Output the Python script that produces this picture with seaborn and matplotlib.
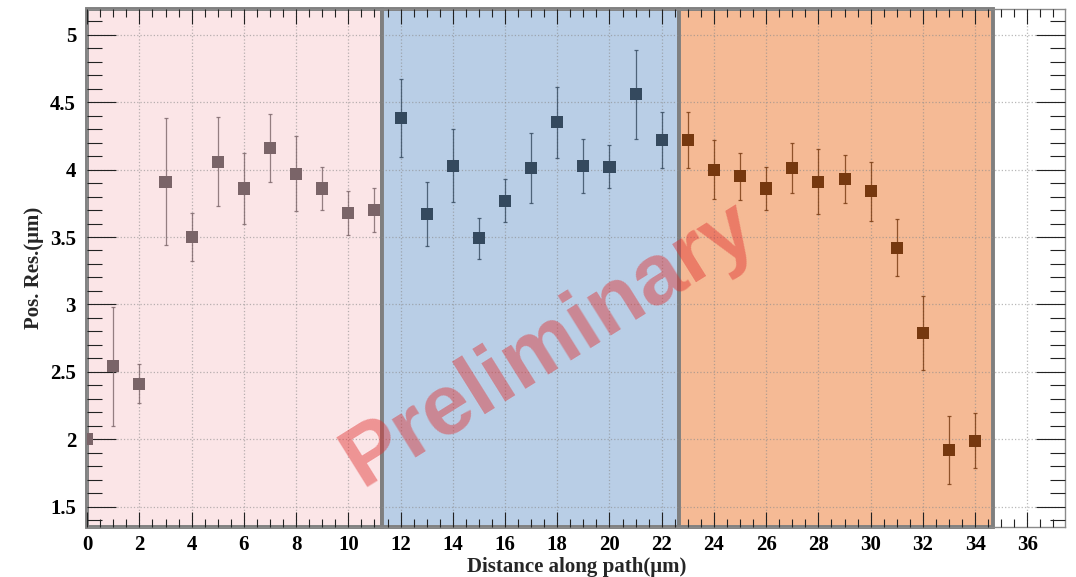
import numpy as np
import pandas as pd
import matplotlib
matplotlib.use("Agg")
import matplotlib.pyplot as plt
import seaborn as sns
from matplotlib.ticker import MultipleLocator, FormatStrFormatter

# ---- data ----
distance = list(range(35))
pos_res = [2.00, 2.54, 2.41, 3.91, 3.50, 4.06, 3.86, 4.16, 3.97, 3.86, 3.68, 3.70,
           4.38, 3.67, 4.03, 3.49, 3.77, 4.01, 4.35, 4.03, 4.02, 4.56, 4.22,
           4.22, 4.00, 3.95, 3.86, 4.01, 3.91, 3.93, 3.84, 3.42, 2.79, 1.92, 1.99]
pos_err = [0.00, 0.44, 0.145, 0.47, 0.18, 0.33, 0.26, 0.25, 0.28, 0.16, 0.165, 0.165,
           0.29, 0.235, 0.27, 0.15, 0.16, 0.26, 0.265, 0.20, 0.16, 0.33, 0.205,
           0.205, 0.22, 0.175, 0.16, 0.185, 0.24, 0.175, 0.22, 0.21, 0.275, 0.255, 0.205]
region = ["A"] * 12 + ["B"] * 11 + ["C"] * 12
band_edges = [0.0, 11.3, 22.65, 34.7]
band_colors = ["#fbe5e7", "#b9cee6", "#f5ba95"]
marker_colors = {"A": "#7a6468", "B": "#34495e", "C": "#76380f"}

df = pd.DataFrame({"distance": distance, "res": pos_res, "err": pos_err, "region": region})

sns.set_style("ticks")
plt.rcParams["font.family"] = ["Liberation Serif", "DejaVu Serif"]

fig = plt.figure(figsize=(10.76, 5.77), dpi=100)
ax = fig.add_axes([0.081, 0.087, 0.909, 0.897])

ax.set_xlim(0, 37.45)
ax.set_ylim(1.35, 5.19)

# bands
for i in range(3):
    ax.axvspan(band_edges[i], band_edges[i + 1], ymin=0, ymax=1,
               facecolor=band_colors[i], edgecolor="#7f7f7f", linewidth=2.8,
               zorder=0, clip_on=False)

# grid
ax.xaxis.set_major_locator(MultipleLocator(2))
ax.xaxis.set_minor_locator(MultipleLocator(0.5))
ax.yaxis.set_major_locator(MultipleLocator(0.5))
ax.yaxis.set_minor_locator(MultipleLocator(0.1))
ax.yaxis.set_major_formatter(FormatStrFormatter("%g"))
ax.grid(True, which="major", linestyle=":", linewidth=0.9, color="#8a8a8a", alpha=0.6, zorder=1)
ax.set_axisbelow(False)

# error bars
for reg, sub in df.groupby("region"):
    ax.errorbar(sub["distance"], sub["res"], yerr=sub["err"], fmt="none",
                ecolor=marker_colors[reg], elinewidth=0.9, capsize=1.2, capthick=0.9,
                alpha=0.8, zorder=3)

sns.scatterplot(data=df, x="distance", y="res", hue="region", palette=marker_colors,
                marker="s", s=75, edgecolor="none", legend=False, ax=ax, zorder=4)

# watermark
ax.text(17.7, 2.70, "Preliminary", fontsize=62, fontweight="bold",
        family=["Liberation Sans", "DejaVu Sans"], color="#e0302f", alpha=0.45,
        rotation=32, ha="center", va="center", zorder=5)

# ticks
ax.tick_params(which="both", direction="in", top=True, right=True, colors="#222222",
               labelcolor="black", width=0.8)
ax.tick_params(axis="y", which="major", length=21, pad=8, labelsize=15)
ax.tick_params(axis="y", which="minor", length=11)
ax.tick_params(axis="x", which="major", length=11, pad=6, labelsize=15)
ax.tick_params(axis="x", which="minor", length=5.5)
for lab in ax.get_xticklabels() + ax.get_yticklabels():
    lab.set_fontweight("bold")

for s in ax.spines.values():
    s.set_color("#8a8a8a")
    s.set_linewidth(1.0)

ax.set_xlabel("Distance along path(μm)", fontsize=15, fontweight="bold", labelpad=1)
ax.set_ylabel("Pos. Res.(μm)", fontsize=15, fontweight="bold", labelpad=4)

fig.savefig("out.png", dpi=100)
